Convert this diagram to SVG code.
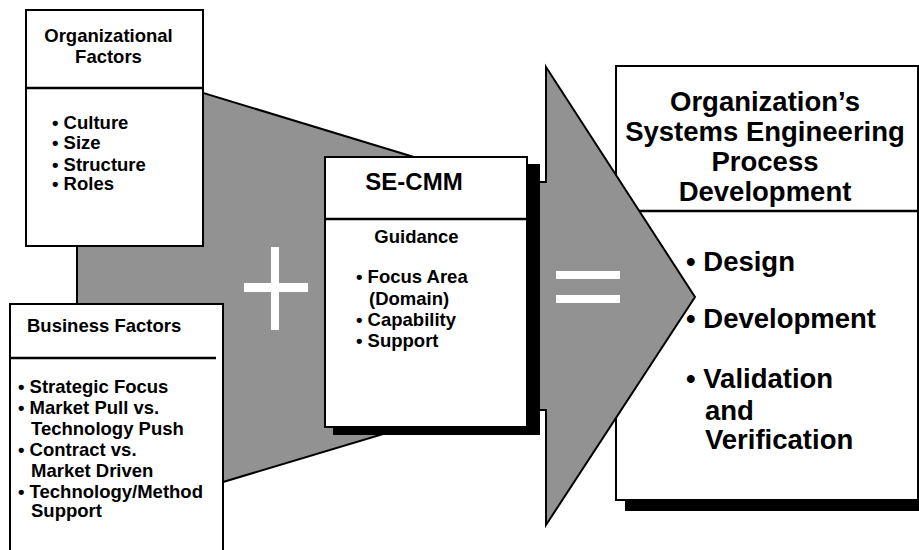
<svg xmlns="http://www.w3.org/2000/svg" width="919" height="550" viewBox="0 0 919 550">
<style>
.box{fill:#fff;stroke:#000;stroke-width:2}
.gray{fill:#929292;stroke:#000;stroke-width:2;stroke-linejoin:miter}
.shadow{fill:#000}
.div{stroke:#000;stroke-width:2.5}
text{font-family:"Liberation Sans",Arial,sans-serif;font-weight:bold;fill:#000}
.s{font-size:18.5px}
.m{font-size:24px}
.l{font-size:27.5px}
.c{text-anchor:middle}
.w{fill:#fff}
</style>
<rect width="919" height="550" fill="#fff"/>
<g id="result">
<rect class="shadow" x="625" y="75" width="300" height="436"/>
<rect class="box" x="616" y="66" width="302" height="434"/>
<line class="div" x1="616" y1="211" x2="918" y2="211"/>
<text class="l c" x="765" y="111">Organization’s</text>
<text class="l c" x="765" y="141">Systems Engineering</text>
<text class="l c" x="765" y="171">Process</text>
<text class="l c" x="765" y="201">Development</text>
<text class="l" x="686" y="271">• Design</text>
<text class="l" x="686" y="328">• Development</text>
<text class="l" x="686" y="388">• Validation</text>
<text class="l" x="705" y="420">and</text>
<text class="l" x="705" y="449">Verification</text>
</g>
<g id="connectors">
<polygon class="gray" points="77,54.6 460,171 460,411 77,525.8"/>
<polygon class="gray" points="546,67 695,297 546,525 546,410 430,410 430,182 546,182"/>
<rect class="w" x="271" y="247" width="8" height="83"/>
<rect class="w" x="244" y="283" width="64" height="9"/>
<rect class="w" x="556" y="271" width="64" height="8"/>
<rect class="w" x="556" y="295" width="64" height="8"/>
</g>
<g id="se-cmm">
<rect class="shadow" x="333" y="164" width="207" height="271"/>
<rect class="box" x="325" y="157" width="202" height="270"/>
<line class="div" x1="325" y1="219" x2="527" y2="219"/>
<text class="m c" x="414" y="190">SE-CMM</text>
<text class="s c" x="416.5" y="243">Guidance</text>
<text class="s" x="356" y="283">• Focus Area</text>
<text class="s" x="369" y="305">(Domain)</text>
<text class="s" x="356" y="326">• Capability</text>
<text class="s" x="356" y="347">• Support</text>
</g>
<g id="organizational-factors">
<rect class="box" x="26" y="10" width="177" height="236"/>
<line class="div" x1="26" y1="88" x2="203" y2="88"/>
<text class="s c" x="108.5" y="42">Organizational</text>
<text class="s c" x="108.5" y="63">Factors</text>
<text class="s" x="52" y="129">• Culture</text>
<text class="s" x="52" y="149">• Size</text>
<text class="s" x="52" y="171">• Structure</text>
<text class="s" x="52" y="190">• Roles</text>
</g>
<g id="business-factors">
<rect class="box" x="10" y="304" width="213" height="260"/>
<line class="div" x1="10" y1="358" x2="216" y2="358"/>
<text class="s" x="27" y="332">Business Factors</text>
<text class="s" x="18" y="393">• Strategic Focus</text>
<text class="s" x="18" y="414">• Market Pull vs.</text>
<text class="s" x="31" y="435">Technology Push</text>
<text class="s" x="18" y="456">• Contract vs.</text>
<text class="s" x="31" y="477">Market Driven</text>
<text class="s" x="18" y="498">• Technology/Method</text>
<text class="s" x="31" y="517">Support</text>
</g>
</svg>
